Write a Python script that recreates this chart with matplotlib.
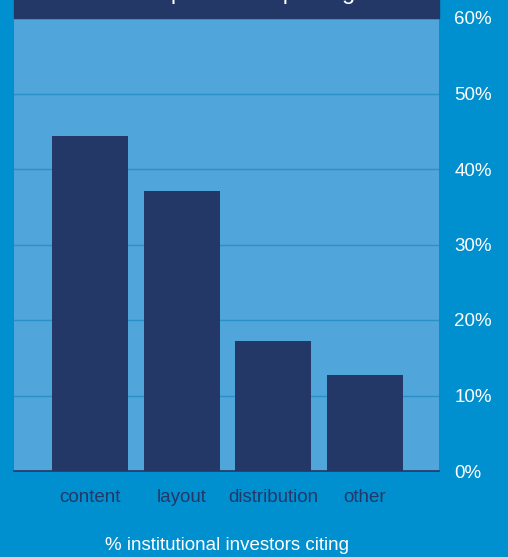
import matplotlib.pyplot as plt
from matplotlib.patches import Rectangle

categories = ["content", "layout", "distribution", "other"]
values = [44.4, 37.1, 17.2, 12.7]
yticks = [0, 10, 20, 30, 40, 50, 60]
ytick_labels = ["0%", "10%", "20%", "30%", "40%", "50%", "60%"]
title = "Room to improve in reporting"
xlabel = "% institutional investors citing"

bg = "#0090cf"
panel = "#50a5da"
navy = "#243868"

plt.rcParams['font.family'] = ['Liberation Sans', 'DejaVu Sans']

W, H = 508, 557
fig = plt.figure(figsize=(W / 100, H / 100), dpi=100, facecolor=bg)
ax = fig.add_axes([14 / W, 1 - 471 / H, 425 / W, 453 / H])
ax.set_facecolor(panel)

x = range(len(categories))
ax.bar(x, values, width=0.83, color=navy, zorder=3)
ax.set_xlim(-0.829, 3.81)
ax.set_ylim(0, 60)

ax.set_yticks(yticks)
ax.set_yticklabels(ytick_labels)
ax.yaxis.tick_right()
ax.tick_params(axis='y', length=0, pad=11, labelsize=13.5, labelcolor="white")
ax.set_xticks(list(x))
ax.set_xticklabels(categories)
ax.tick_params(axis='x', length=0, pad=13, labelsize=13.5, labelcolor=navy)
ax.grid(axis='y', color="#2a90c8", linewidth=1, zorder=1)
ax.set_axisbelow(True)
for s in ["top", "left", "right"]:
    ax.spines[s].set_visible(False)
ax.spines["bottom"].set_color(navy)
ax.spines["bottom"].set_linewidth(1.2)
ax.spines["bottom"].set_zorder(4)

# title band at the top (text runs off the top edge, as in the source)
fig.patches.append(Rectangle((14 / W, 1 - 18 / H), 425 / W, 18 / H,
                             transform=fig.transFigure, color=navy))
fig.text(50 / W, 1 + 1 / H, title, color="white", fontsize=17,
         ha="left", va="baseline")

fig.text(227 / W, 1 - 546 / H, xlabel, color="white", fontsize=13.5,
         ha="center", va="center")

fig.savefig("out.png", dpi=100, facecolor=bg)
